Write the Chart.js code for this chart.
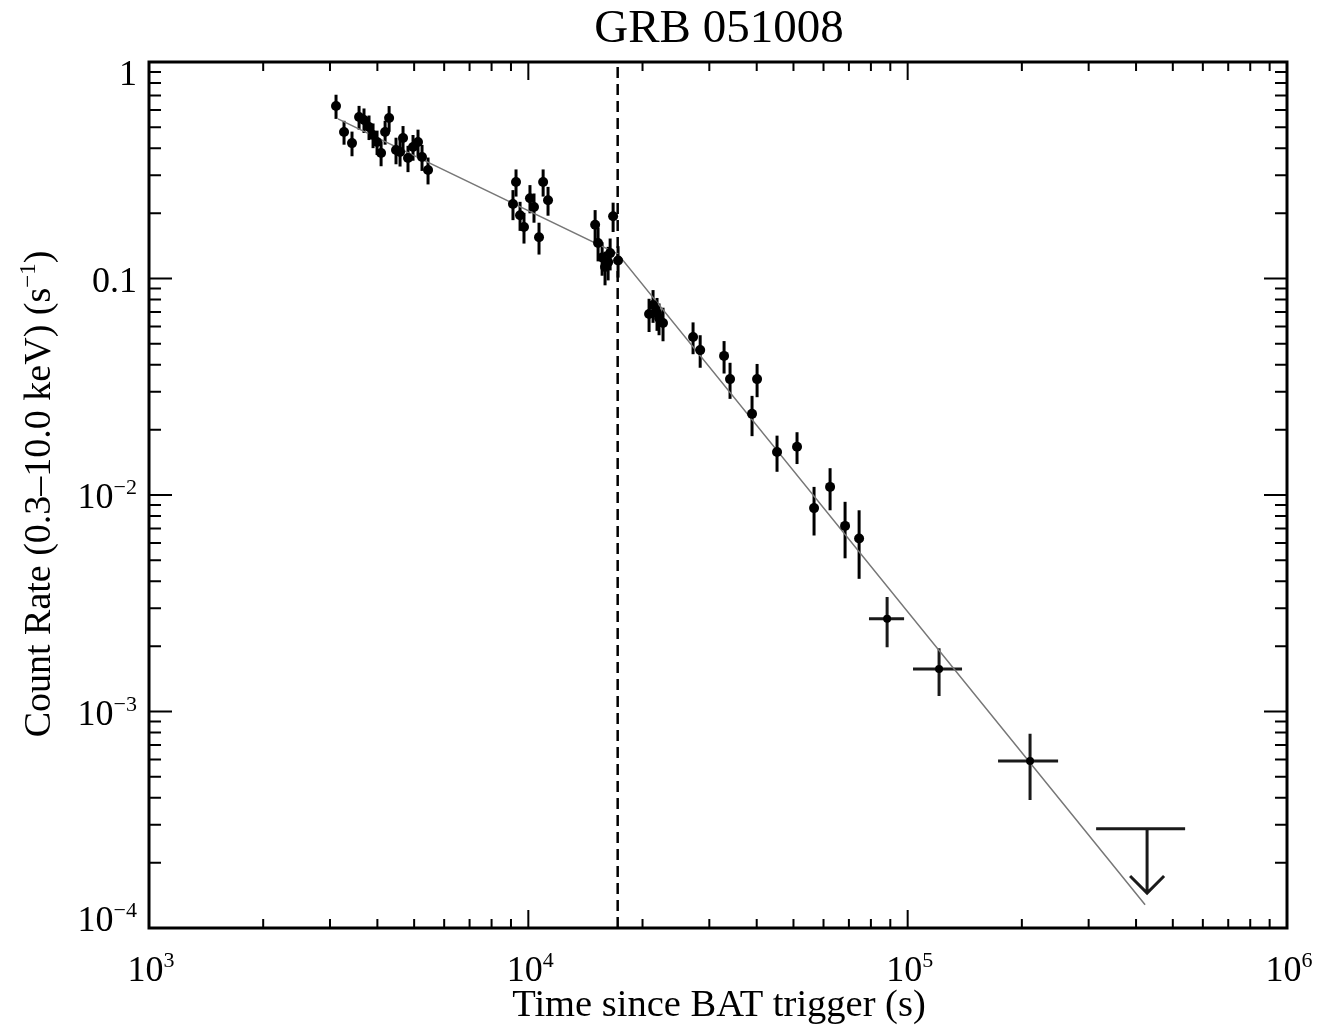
<!DOCTYPE html>
<html>
<head>
<meta charset="utf-8">
<script src="https://cdn.jsdelivr.net/npm/chart.js@4.4.1/dist/chart.umd.min.js"></script>
<style>
  body { margin: 0; background: #fff; }
  canvas { display: block; }
</style>
</head>
<body>
<canvas id="lightCurve" width="1319" height="1027"></canvas>
<script>
// XRT count rates (s, counts/s)
const time = [3112, 3267, 3429, 3579, 3688, 3802, 3896, 3992, 4091, 4192, 4295, 4479, 4590, 4674, 4817, 4966, 5119, 5245, 5440,
  9110, 9280, 9510, 9740, 10100, 10350, 10670, 10940, 11270,
  15000, 15270, 15650, 15930, 16230, 16430, 16730, 17240,
  20810, 21320, 21840, 22110, 22650, 27180, 28380,
  32810, 34020, 38880, 40090, 45250, 51090, 56650, 62440, 68390, 74470];
const rate = [0.626, 0.475, 0.422, 0.557, 0.540, 0.501, 0.460, 0.427, 0.380, 0.475, 0.551, 0.392, 0.384, 0.446, 0.360, 0.405, 0.427, 0.364, 0.317,
  0.221, 0.279, 0.196, 0.173, 0.235, 0.214, 0.155, 0.279, 0.230,
  0.177, 0.146, 0.125, 0.113, 0.119, 0.131, 0.194, 0.121,
  0.0686, 0.0754, 0.0693, 0.0657, 0.0623, 0.0537, 0.0467,
  0.0439, 0.0343, 0.0237, 0.0343, 0.0158, 0.0167, 0.0087, 0.0109, 0.0072, 0.0063];
const rateErr = [0.08, 0.06, 0.055, 0.07, 0.07, 0.065, 0.06, 0.055, 0.05, 0.06, 0.075, 0.055, 0.055, 0.06, 0.05, 0.055, 0.06, 0.05, 0.045,
  0.035, 0.04, 0.03, 0.028, 0.035, 0.033, 0.026, 0.04, 0.035,
  0.03, 0.026, 0.022, 0.02, 0.021, 0.022, 0.03, 0.02,
  0.012, 0.013, 0.012, 0.011, 0.011, 0.009, 0.008,
  0.0075, 0.0065, 0.005, 0.006, 0.003, 0.0028, 0.0022, 0.0024, 0.0021, 0.0022];

// late, binned points with time ranges
const lateTime = [88270, 121000, 210200];
const lateTimeLo = [79070, 103300, 173100];
const lateTimeHi = [97850, 139100, 249200];
const lateRate = [0.00268, 0.00157, 0.00059];
const lateRateErr = [0.0007, 0.00039, 0.0002];

// upper limit
const ulTime = [427700];
const ulTimeLo = [313900];
const ulTimeHi = [538800];
const ulRate = [0.000287];
const ulArrowTip = [0.000145];

// broken power-law fit and break time
const fitTime = [3150, 17200, 422600];
const fitRate = [0.546, 0.130, 0.000128];
const breakTime = 17200;

const xTickExps = [3, 4, 5, 6];
const yTickVals = [1, 0.1, 0.01, 0.001, 0.0001];
const yTickText = [['1', ''], ['0.1', ''], ['10', '\u22122'], ['10', '\u22123'], ['10', '\u22124']];

const serif = '"Liberation Serif", "DejaVu Serif", serif';

const errorBars = {
  id: 'errorBars',
  beforeDatasetsDraw(chart) {
    const { ctx, scales: { x, y } } = chart;
    ctx.save();
    ctx.strokeStyle = '#000';
    ctx.lineWidth = 3;
    time.forEach((t, i) => {
      const px = x.getPixelForValue(t);
      ctx.beginPath();
      ctx.moveTo(px, y.getPixelForValue(rate[i] + rateErr[i]));
      ctx.lineTo(px, y.getPixelForValue(rate[i] - rateErr[i]));
      ctx.stroke();
    });
    ctx.strokeStyle = '#1a1a1a';
    ctx.lineWidth = 3;
    lateTime.forEach((t, i) => {
      const px = x.getPixelForValue(t);
      const py = y.getPixelForValue(lateRate[i]);
      ctx.beginPath();
      ctx.moveTo(px, y.getPixelForValue(lateRate[i] + lateRateErr[i]));
      ctx.lineTo(px, y.getPixelForValue(lateRate[i] - lateRateErr[i]));
      ctx.moveTo(x.getPixelForValue(lateTimeLo[i]), py);
      ctx.lineTo(x.getPixelForValue(lateTimeHi[i]), py);
      ctx.stroke();
    });
    ulTime.forEach((t, i) => {
      const px = x.getPixelForValue(t);
      const py = y.getPixelForValue(ulRate[i]);
      const tip = y.getPixelForValue(ulArrowTip[i]);
      ctx.beginPath();
      ctx.moveTo(x.getPixelForValue(ulTimeLo[i]), py);
      ctx.lineTo(x.getPixelForValue(ulTimeHi[i]), py);
      ctx.moveTo(px, py);
      ctx.lineTo(px, tip);
      ctx.moveTo(px - 17, tip - 17);
      ctx.lineTo(px, tip);
      ctx.lineTo(px + 17, tip - 17);
      ctx.stroke();
    });
    ctx.restore();
  }
};

function supText(ctx, base, sup, xPos, yBase, align) {
  ctx.font = '36px ' + serif;
  const wb = ctx.measureText(base).width;
  ctx.font = '22px ' + serif;
  const ws = sup ? ctx.measureText(sup).width : 0;
  const total = wb + ws;
  let x0 = xPos;
  if (align === 'center') x0 = xPos - total / 2;
  if (align === 'right') x0 = xPos - total;
  ctx.textAlign = 'left';
  ctx.font = '36px ' + serif;
  ctx.fillText(base, x0, yBase);
  if (sup) {
    ctx.font = '22px ' + serif;
    ctx.fillText(sup, x0 + wb, yBase - 14);
  }
}

const frameAxes = {
  id: 'frameAxes',
  afterDraw(chart) {
    const { ctx, chartArea: a, scales: { x, y } } = chart;
    ctx.save();
    ctx.strokeStyle = '#000';
    ctx.fillStyle = '#000';

    // ticks, pointing inwards on all four sides
    ctx.lineWidth = 2;
    ctx.beginPath();
    for (let e = 3; e < 6; e++) {
      for (let m = 1; m < 10; m++) {
        const px = x.getPixelForValue(m * Math.pow(10, e));
        const len = m === 1 ? 18 : 9;
        ctx.moveTo(px, a.bottom); ctx.lineTo(px, a.bottom - len);
        ctx.moveTo(px, a.top); ctx.lineTo(px, a.top + len);
      }
    }
    for (let e = -4; e < 0; e++) {
      for (let m = 1; m < 10; m++) {
        const py = y.getPixelForValue(m * Math.pow(10, e));
        const len = m === 1 ? 23 : 12;
        ctx.moveTo(a.left, py); ctx.lineTo(a.left + len, py);
        ctx.moveTo(a.right, py); ctx.lineTo(a.right - len, py);
      }
    }
    ctx.stroke();

    ctx.lineWidth = 3;
    ctx.strokeRect(a.left, a.top, a.right - a.left, a.bottom - a.top);

    // tick labels
    ctx.textBaseline = 'alphabetic';
    xTickExps.forEach(e => {
      supText(ctx, '10', String(e), x.getPixelForValue(Math.pow(10, e)) + 2, 981, 'center');
    });
    yTickVals.forEach((v, i) => {
      let py = y.getPixelForValue(v);
      py = Math.min(Math.max(py, a.top + 10), a.bottom - 10);
      supText(ctx, yTickText[i][0], yTickText[i][1], 137, py + 13, 'right');
    });

    // titles
    ctx.textAlign = 'center';
    ctx.font = '47px ' + serif;
    ctx.fillText('GRB 051008', 719, 42);
    ctx.font = '38.5px ' + serif;
    ctx.fillText('Time since BAT trigger (s)', 719, 1016);

    ctx.translate(50, 494);
    ctx.rotate(-Math.PI / 2);
    const main = 'Count Rate (0.3\u201310.0 keV) (s';
    ctx.font = '38px ' + serif;
    const wMain = ctx.measureText(main).width;
    const wClose = ctx.measureText(')').width;
    ctx.font = '23px ' + serif;
    const wSup = ctx.measureText('\u22121').width;
    const start = -(wMain + wSup + wClose) / 2;
    ctx.textAlign = 'left';
    ctx.font = '38px ' + serif;
    ctx.fillText(main, start, 0);
    ctx.font = '23px ' + serif;
    ctx.fillText('\u22121', start + wMain, -15);
    ctx.font = '38px ' + serif;
    ctx.fillText(')', start + wMain + wSup, 0);
    ctx.restore();
  }
};

const points = time.map((t, i) => ({ x: t, y: rate[i] }));
const latePoints = lateTime.map((t, i) => ({ x: t, y: lateRate[i] }));
const fitLine = fitTime.map((t, i) => ({ x: t, y: fitRate[i] }));

new Chart(document.getElementById('lightCurve').getContext('2d'), {
  type: 'scatter',
  data: {
    datasets: [
      {
        label: 'data',
        data: points,
        backgroundColor: '#000',
        borderWidth: 0,
        pointRadius: 5,
        order: 1
      },
      {
        label: 'late',
        data: latePoints,
        backgroundColor: '#000',
        borderWidth: 0,
        pointRadius: 4,
        order: 1
      },
      {
        type: 'line',
        label: 'fit',
        data: fitLine,
        borderColor: '#777',
        borderWidth: 1.5,
        pointRadius: 0,
        fill: false,
        order: 3
      },
      {
        type: 'line',
        label: 'break',
        data: [{ x: breakTime, y: 0.0001 }, { x: breakTime, y: 1 }],
        borderColor: '#000',
        borderWidth: 2.5,
        borderDash: [11, 6],
        pointRadius: 0,
        fill: false,
        order: 2
      }
    ]
  },
  options: {
    responsive: false,
    animation: false,
    layout: { padding: { left: 149, right: 32, top: 62, bottom: 99 } },
    plugins: {
      legend: { display: false },
      tooltip: { enabled: false }
    },
    scales: {
      x: { type: 'logarithmic', min: 1000, max: 1000000, display: false },
      y: { type: 'logarithmic', min: 0.0001, max: 1, display: false }
    }
  },
  plugins: [errorBars, frameAxes]
});
</script>
</body>
</html>
